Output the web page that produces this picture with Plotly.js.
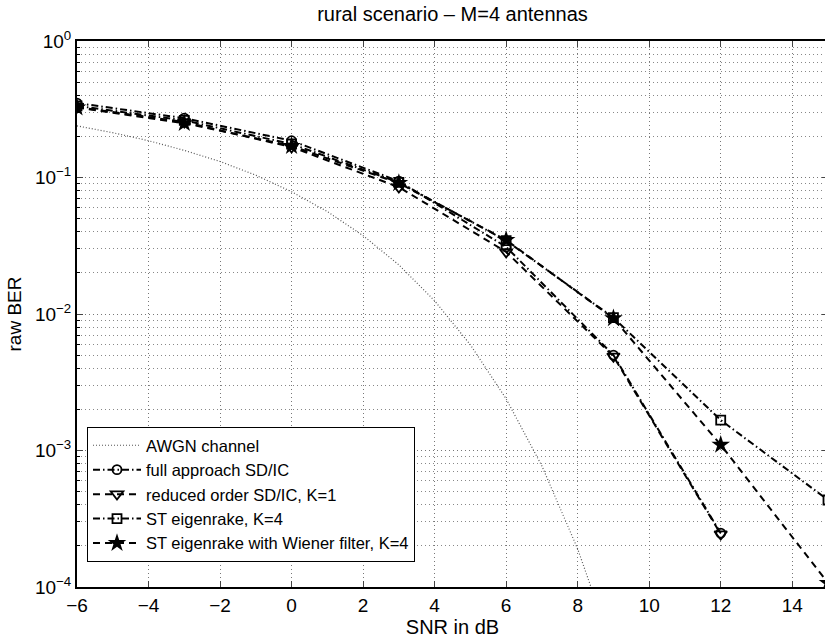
<!DOCTYPE html>
<html><head><meta charset="utf-8">
<script src="https://cdn.plot.ly/plotly-3.0.1.min.js"></script>
<style>html,body{margin:0;padding:0;overflow:hidden;background:#fff}</style>
</head><body><div id="chart" style="width:828px;height:638px"></div>
<script>
// SNR grids (dB)
const snrAwgn = [-6,-5,-4,-3,-2,-1,0,1,2,3,4,5,6,7,8,9];
const snrSdic = [-6,-3,0,3,6,9,12];
const snrRake = [-6,-3,0,3,6,9,12,15];
// raw BER values
const berAwgn = [0.239,0.213,0.186,0.158,0.131,0.104,0.0786,0.0563,0.0375,0.0229,0.0125,0.00595,0.00239,0.00077,0.00019,0.000034];
const berFull = [0.351,0.272,0.186,0.094,0.031,0.0050,0.000248];
const berReduced = [0.328,0.255,0.167,0.085,0.0285,0.0049,0.000244];
const berEigen = [0.335,0.262,0.176,0.092,0.0345,0.0094,0.00167,0.000434];
const berWiener = [0.325,0.250,0.170,0.091,0.0348,0.0093,0.0011,0.000107];
const names = ['AWGN channel','full approach SD/IC','reduced order SD/IC, K=1','ST eigenrake, K=4','ST eigenrake with Wiener filter, K=4'];
const yTickVals = [1,0.1,0.01,0.001,0.0001];
const yTickText = ['10<sup>0</sup>','10<sup>\u22121</sup>','10<sup>\u22122</sup>','10<sup>\u22123</sup>','10<sup>\u22124</sup>'];

const FONT = 'Liberation Sans, Arial, Helvetica, sans-serif';
const dashed = '7px,5px';
const dashdot = '7px,3px,1.5px,3px';

const traces = [
  {x:snrAwgn, y:berAwgn, name:names[0], mode:'lines', line:{color:'#555', width:1.2, dash:'1px,2px'}},
  {x:snrSdic, y:berFull, name:names[1], mode:'lines+markers', line:{color:'#000', width:2, dash:dashdot},
   marker:{symbol:'circle-open', size:9, color:'#000', line:{width:1.8}}},
  {x:snrSdic, y:berReduced, name:names[2], mode:'lines+markers', line:{color:'#000', width:2, dash:dashed},
   marker:{symbol:'triangle-down-open', size:11, color:'#000', line:{width:1.8}}},
  {x:snrRake, y:berEigen, name:names[3], mode:'lines+markers', line:{color:'#000', width:2, dash:dashdot},
   marker:{symbol:'square-open', size:9, color:'#000', line:{width:1.8}}},
  {x:snrRake, y:berWiener, name:names[4], mode:'lines+markers', line:{color:'#000', width:2, dash:dashed},
   marker:{symbol:'star', size:14, color:'#000', line:{width:0}}}
];

const layout = {
  width:828, height:638,
  margin:{l:77, r:0, t:41, b:51, autoexpand:false},
  paper_bgcolor:'#fff', plot_bgcolor:'#fff',
  font:{family:FONT, color:'#000', size:17},
  showlegend:true,
  title:{text:'rural scenario \u2013 M=4 antennas', font:{family:FONT, size:20, color:'#000'},
         xref:'paper', x:0.5, xanchor:'center', yref:'container', y:1-14/638, yanchor:'middle'},
  xaxis:{type:'linear', range:[-6,15], dtick:2, tick0:-6, ticks:'inside', ticklen:6, tickwidth:1,
         showline:true, linecolor:'#000', linewidth:2, mirror:'ticks', zeroline:false,
         showgrid:true, gridcolor:'#777', gridwidth:1, griddash:'1px,3px',
         tickfont:{family:FONT, size:19}, automargin:false,
         title:{text:'SNR in dB', font:{family:FONT, size:20}, standoff:2}},
  yaxis:{type:'log', range:[-4,0], tickvals:yTickVals, ticktext:yTickText, ticks:'inside', ticklen:6, tickwidth:1,
         showline:true, linecolor:'#000', linewidth:2, mirror:'ticks', zeroline:false,
         showgrid:true, gridcolor:'#777', gridwidth:1, griddash:'1px,3px',
         minor:{dtick:'D1', ticks:'inside', ticklen:3, tickcolor:'#000', showgrid:true, gridcolor:'#888', griddash:'1px,3px', gridwidth:1},
         tickfont:{family:FONT, size:19}, automargin:false,
         title:{text:'raw BER', font:{family:FONT, size:19}, standoff:8}},
  legend:{x:10/751, y:25/546, xanchor:'left', yanchor:'bottom', bgcolor:'#fff', bordercolor:'#000', borderwidth:1,
          font:{family:FONT, size:16.5, color:'#000'}, itemwidth:48, tracegroupgap:0}
};

Plotly.newPlot('chart', traces, layout, {staticPlot:true, displayModeBar:false});
</script>
</body></html>
